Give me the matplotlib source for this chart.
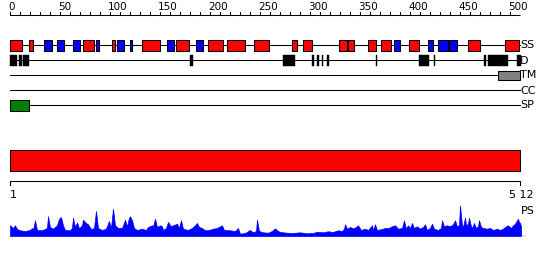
import matplotlib
matplotlib.use("Agg")
import matplotlib.pyplot as plt

# ---------------- data ----------------
seq_len = 512
top_ticks = list(range(0, 501, 10))
top_labels = list(range(0, 501, 50))

ss_helix = [(0, 12), (19, 23), (73, 84), (102, 105), (132, 150), (166, 179), (198, 213),
            (217, 235), (244, 259), (282, 287), (293, 302), (329, 337), (338, 344),
            (358, 366), (371, 381), (399, 409), (458, 470), (495, 509)]
ss_strand = [(34, 42), (47, 54), (63, 70), (86, 89), (107, 114), (120, 122), (157, 164),
             (186, 193), (384, 390), (418, 423), (428, 438), (439, 447)]
disorder = [(0, 7), (9, 12), (13, 19), (180, 183), (273, 285), (302, 304), (307, 309),
            (312, 313), (317, 319), (366, 367), (409, 419), (424, 425), (474, 476),
            (478, 498), (507, 511)]
tm_regions = [(488, 510)]
cc_regions = []
sp_regions = [(0, 19)]
domain_regions = [(0, 510)]

track_labels = ["SS", "D", "TM", "CC", "SP"]
bottom_labels = ["1", "5 12"]

ps_pos = [1, 4, 6, 8, 11, 16, 21, 23, 24, 26, 28, 33, 38, 39, 41, 44, 48, 50, 52, 54, 56,
          61, 63, 64, 66, 68, 70, 73, 74, 77, 79, 82, 85, 87, 89, 93, 97, 100, 102, 104,
          106, 109, 113, 114, 116, 118, 120, 121, 123, 125, 128, 133, 137, 139, 143, 144,
          146, 148, 151, 153, 154, 157, 159, 162, 164, 168, 170, 172, 174, 179, 183, 186,
          188, 190, 193, 196, 200, 204, 208, 211, 213, 215, 221, 226, 229, 231, 236, 241,
          244, 247, 248, 250, 254, 259, 263, 266, 268, 271, 278, 284, 291, 298, 304, 308,
          314, 319, 324, 329, 333, 335, 336, 338, 341, 344, 347, 349, 352, 356, 359, 363,
          364, 366, 368, 373, 376, 379, 383, 386, 389, 393, 395, 397, 399, 401, 403, 405,
          408, 411, 414, 416, 418, 421, 423, 425, 429, 432, 433, 435, 438, 441, 444, 446,
          448, 450, 451, 453, 454, 456, 457, 459, 460, 462, 463, 465, 467, 469, 470, 472,
          474, 478, 481, 484, 488, 491, 494, 497, 499, 502, 504, 506, 508, 509, 510, 511, 512]
ps_val = [10.7, 8, 10.7, 7, 5.7, 5, 6, 8, 6, 15.7, 6, 5.7, 8, 19.7, 9, 7.3, 10.7, 17.3, 19,
          10.7, 6, 5.7, 8, 18.3, 9, 13.7, 7.7, 10.7, 16.3, 13, 11.7, 7, 8, 25, 8, 6, 7.3, 15,
          8, 27.3, 10.7, 8, 8, 10.7, 16.3, 9.7, 18.3, 19.7, 15.7, 8, 6, 7.3, 6, 9, 10.7, 9.7,
          17.3, 9, 10.7, 9.7, 6, 8, 14, 9.7, 10.7, 12.3, 8, 15.7, 7.3, 6, 8, 10.7, 13, 9, 8,
          5.7, 6, 7.3, 8, 9.7, 10.7, 6, 5.7, 5, 8, 2.3, 3, 6, 3.7, 5, 16.3, 5, 3.7, 3.3, 5,
          7.7, 5.7, 4, 3.3, 3, 3.7, 2.7, 3, 4.3, 3.7, 4.7, 4, 5.7, 5, 7.3, 11.7, 7.3, 9, 7.7,
          9, 10.7, 6, 7.3, 6, 10.7, 5.7, 11.7, 6, 7, 8, 7.7, 9.7, 10.7, 7.3, 8, 15.7, 7.3,
          10.7, 8, 13, 8, 9.7, 7.3, 9, 11.7, 6, 8, 12.3, 7.3, 6, 8, 15.7, 9.7, 10.7, 9.7,
          11.7, 15.7, 9.7, 10.7, 30.7, 10.7, 9, 18.3, 10.7, 12.3, 18.3, 9.7, 8, 13, 8, 9.7,
          15.7, 9, 8, 7.3, 8, 6, 7.3, 6, 7.3, 9.7, 10.7, 8, 10.7, 12.3, 15.7, 17.3, 14, 13, 10]

# ---------------- figure ----------------
W, H = 550, 260
fig = plt.figure(figsize=(W / 100, H / 100), dpi=100)
ax = fig.add_axes([0, 0, 1, 1])
ax.set_xlim(-10, W - 10)
ax.set_ylim(H, 0)
ax.axis("off")

lw = 0.75
FS = 8
font = dict(family="DejaVu Sans", fontsize=FS, color="black")

# top ruler
ax.plot([0, 510], [15, 15], color="black", lw=lw, solid_capstyle="butt")
for t in top_ticks:
    ax.plot([t, t], [15, 12], color="black", lw=lw)
for t in top_labels:
    ax.text(t - 2, 12, str(t), ha="left", va="bottom", fontsize=7.5, family="DejaVu Sans")

def spans(regs):
    return [(a, b - a) for a, b in regs]

rows = [45, 60, 75, 90, 105]
for y in rows:
    ax.plot([0, 510], [y, y], color="black", lw=lw, zorder=1)

# SS
ax.broken_barh(spans(ss_helix), (40, 11), facecolor="#ff0000", edgecolor="black", lw=lw, zorder=2)
ax.broken_barh(spans(ss_strand), (40, 11), facecolor="#0000ff", edgecolor="black", lw=lw, zorder=2)
# Disorder
ax.broken_barh(spans(disorder), (54.5, 11.5), facecolor="black", edgecolor="black", lw=0.3, zorder=2)
# TM
ax.broken_barh(spans(tm_regions), (70.5, 9.5), facecolor="#808080", edgecolor="black", lw=lw, zorder=2)
# CC
if cc_regions:
    ax.broken_barh(spans(cc_regions), (85.5, 9.5), facecolor="#00aa00", edgecolor="black", lw=lw, zorder=2)
# SP
ax.broken_barh(spans(sp_regions), (100, 11), facecolor="#008000", edgecolor="black", lw=lw, zorder=2)

for lab, y in zip(track_labels, rows):
    ax.text(510, y + 0.5, lab, ha="left", va="center", **font)

# domain bar
ax.broken_barh(spans(domain_regions), (150, 21), facecolor="#ff0000", edgecolor="black", lw=lw, zorder=2)

# bottom ruler
ax.plot([0, 0, 510, 510], [185, 181, 181, 185], color="black", lw=lw)
ax.text(0, 190, bottom_labels[0], ha="left", va="top", **font)
ax.text(499, 190, bottom_labels[1], ha="left", va="top", **font)
ax.text(511, 206, "PS", ha="left", va="top", **font)

# PS profile
ax2 = fig.add_axes([0, (H - 236) / H, 1, 32 / H])
ax2.set_xlim(-10, W - 10)
ax2.set_ylim(0, 32)
ax2.axis("off")
xs = [p - 1 for p in ps_pos]
ax2.fill_between(xs, 0, ps_val, color="#0000ff", lw=0.5)
ax2.plot([0, 515], [0.3, 0.3], color="#0000ff", lw=1)

fig.savefig("out.png", dpi=100)
